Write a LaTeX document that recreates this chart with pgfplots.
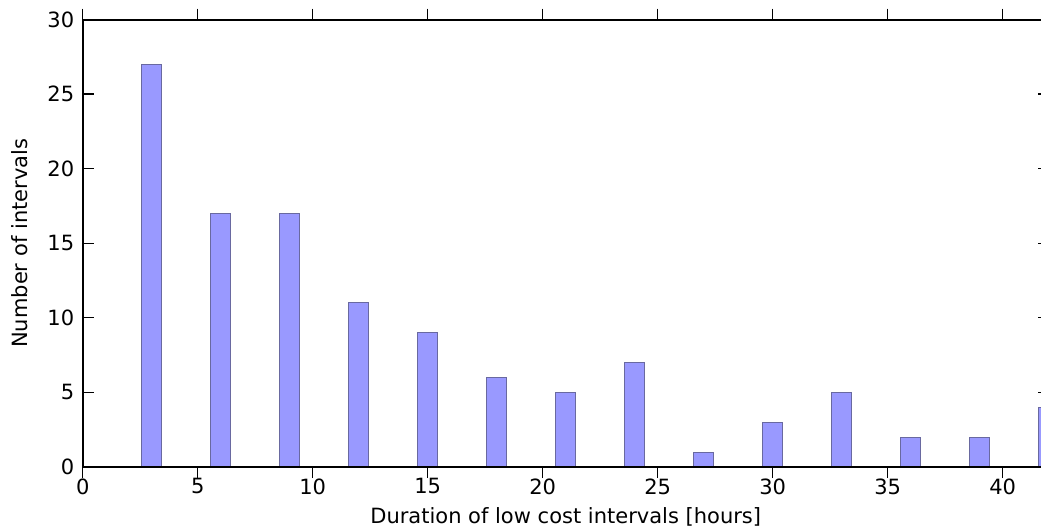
\documentclass[border=0pt]{standalone}
\usepackage{pgfplots}
\pgfplotsset{compat=1.18}
\usepackage{fontspec}
\setmainfont{DejaVu Sans}
\definecolor{barfill}{RGB}{153,153,255}
\definecolor{baredge}{RGB}{105,105,160}
\begin{document}
\begin{tikzpicture}
\useasboundingbox (-82.7pt,-61pt) rectangle (958.3pt,467pt);
\clip (-82.7pt,-61pt) rectangle (958.3pt,467pt);
\begin{axis}[
  at={(0pt,0pt)}, anchor=south west,
  scale only axis,
  width=966pt, height=447.5pt,
  xmin=0, xmax=42, ymin=0, ymax=30,
  enlargelimits=false,
  axis x line=box, axis y line=box,
  xtick={0,5,...,40}, ytick={0,5,...,30},
  tick align=inside,
  major tick length=11pt,
  every tick/.style={black, line width=1.2pt},
  every outer x axis line/.append style={black, line width=2pt},
  every outer y axis line/.append style={black, line width=2pt},
  axis on top,
  /pgf/number format/assume math mode=true,
  tick label style={font=\fontsize{21}{25}\selectfont},
  label style={font=\fontsize{21}{25}\selectfont},
  xticklabel style={yshift=3pt},
  yticklabel style={xshift=-5pt},
  xlabel={Duration of low cost intervals [hours]},
  ylabel={Number of intervals},
  x label style={at={(axis description cs:0.5,0)}, anchor=base, yshift=-56pt},
  y label style={at={(axis description cs:0,0.5)}, rotate=0, anchor=base, yshift=54.7pt},
  ybar, bar width=0.86,
]
\addplot[fill=barfill, draw=baredge, line width=1pt] coordinates {
(3,27) (6,17) (9,17) (12,11) (15,9) (18,6) (21,5) (24,7) (27,1) (30,3) (33,5) (36,2) (39,2) (42,4)
};
\draw[black, line width=2pt] (axis cs:0,0) -- (axis cs:0,30) -- (axis cs:42,30);
\end{axis}
\end{tikzpicture}
\end{document}
